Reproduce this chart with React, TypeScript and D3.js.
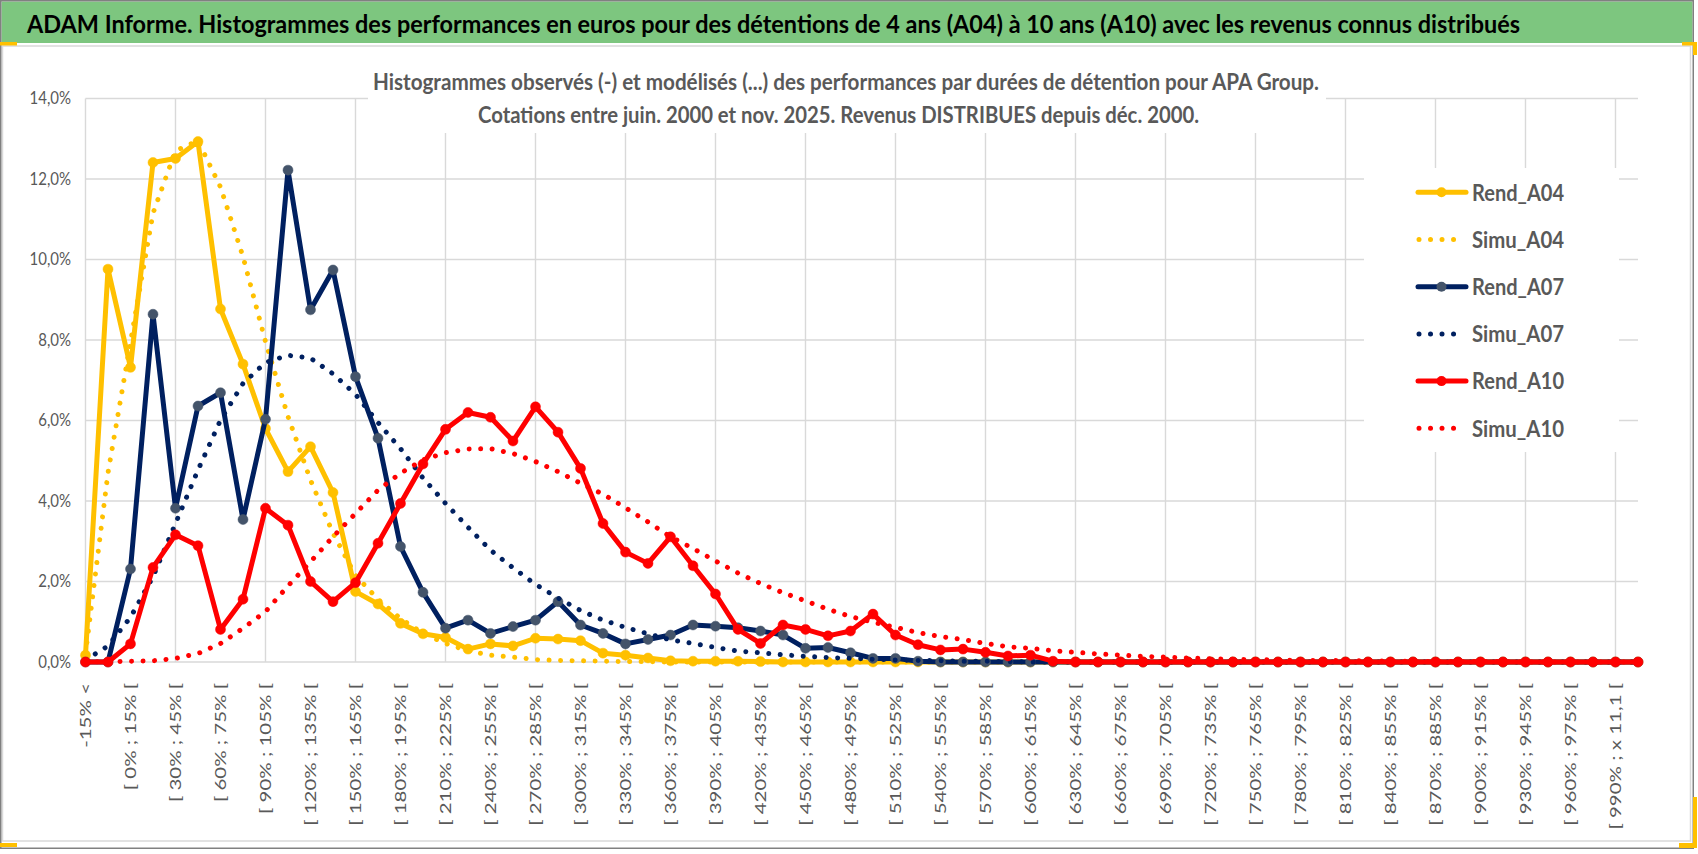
import React, { useEffect, useRef } from 'react';
import * as d3 from 'd3';

// Tick labels, one per category (only every second one is shown)
const categories = [
  '-15% <', '[ -15% ; 0% [', '[ 0% ; 15% [', '[ 15% ; 30% [', '[ 30% ; 45% [',
  '[ 45% ; 60% [', '[ 60% ; 75% [', '[ 75% ; 90% [', '[ 90% ; 105% [', '[ 105% ; 120% [',
  '[ 120% ; 135% [', '[ 135% ; 150% [', '[ 150% ; 165% [', '[ 165% ; 180% [', '[ 180% ; 195% [',
  '[ 195% ; 210% [', '[ 210% ; 225% [', '[ 225% ; 240% [', '[ 240% ; 255% [', '[ 255% ; 270% [',
  '[ 270% ; 285% [', '[ 285% ; 300% [', '[ 300% ; 315% [', '[ 315% ; 330% [', '[ 330% ; 345% [',
  '[ 345% ; 360% [', '[ 360% ; 375% [', '[ 375% ; 390% [', '[ 390% ; 405% [', '[ 405% ; 420% [',
  '[ 420% ; 435% [', '[ 435% ; 450% [', '[ 450% ; 465% [', '[ 465% ; 480% [', '[ 480% ; 495% [',
  '[ 495% ; 510% [', '[ 510% ; 525% [', '[ 525% ; 540% [', '[ 540% ; 555% [', '[ 555% ; 570% [',
  '[ 570% ; 585% [', '[ 585% ; 600% [', '[ 600% ; 615% [', '[ 615% ; 630% [', '[ 630% ; 645% [',
  '[ 645% ; 660% [', '[ 660% ; 675% [', '[ 675% ; 690% [', '[ 690% ; 705% [', '[ 705% ; 720% [',
  '[ 720% ; 735% [', '[ 735% ; 750% [', '[ 750% ; 765% [', '[ 765% ; 780% [', '[ 780% ; 795% [',
  '[ 795% ; 810% [', '[ 810% ; 825% [', '[ 825% ; 840% [', '[ 840% ; 855% [', '[ 855% ; 870% [',
  '[ 870% ; 885% [', '[ 885% ; 900% [', '[ 900% ; 915% [', '[ 915% ; 930% [', '[ 930% ; 945% [',
  '[ 945% ; 960% [', '[ 960% ; 975% [', '[ 975% ; 990% [', '[ 990% ; x 11,1 [', 'x 11,1 <',
];

// values in %
const rendA04 = [
  0.17, 9.76, 7.32, 12.41, 12.51, 12.93, 8.77, 7.40, 5.80, 4.73,
  5.35, 4.21, 1.75, 1.44, 0.96, 0.70, 0.61, 0.32, 0.45, 0.40,
  0.59, 0.57, 0.53, 0.22, 0.17, 0.10, 0.03, 0.02, 0.02, 0.02,
  0.01, 0, 0, 0, 0, 0, 0, 0, 0, 0,
  0, 0, 0, 0, 0, 0, 0, 0, 0, 0,
  0, 0, 0, 0, 0, 0, 0, 0, 0, 0,
  0, 0, 0, 0, 0, 0, 0, 0, 0, 0,
];
const simuA04 = [
  0.20, 4.70, 7.95, 11.15, 12.70, 12.95, 11.80, 10.07, 7.96, 6.10,
  4.52, 3.20, 2.15, 1.56, 1.08, 0.71, 0.46, 0.28, 0.17, 0.12,
  0.06, 0.04, 0.03, 0.02, 0.01, 0.01, 0, 0, 0, 0,
  0, 0, 0, 0, 0, 0, 0, 0, 0, 0,
  0, 0, 0, 0, 0, 0, 0, 0, 0, 0,
  0, 0, 0, 0, 0, 0, 0, 0, 0, 0,
  0, 0, 0, 0, 0, 0, 0, 0, 0, 0,
];
const rendA07 = [
  0, 0, 2.31, 8.64, 3.82, 6.36, 6.69, 3.54, 6.03, 12.22,
  8.75, 9.74, 7.09, 5.56, 2.87, 1.73, 0.84, 1.04, 0.71, 0.88,
  1.04, 1.50, 0.92, 0.71, 0.45, 0.56, 0.67, 0.92, 0.89, 0.85,
  0.77, 0.67, 0.34, 0.36, 0.23, 0.09, 0.09, 0.02, 0, 0,
  0, 0, 0, 0, 0, 0, 0, 0, 0, 0,
  0, 0, 0, 0, 0, 0, 0, 0, 0, 0,
  0, 0, 0, 0, 0, 0, 0, 0, 0, 0,
];
const simuA07 = [
  0.05, 0.40, 1.11, 2.12, 3.44, 4.77, 6.01, 6.92, 7.44, 7.62,
  7.55, 7.16, 6.65, 5.95, 5.30, 4.57, 3.94, 3.35, 2.78, 2.34,
  1.93, 1.59, 1.28, 1.04, 0.86, 0.70, 0.55, 0.46, 0.36, 0.27,
  0.23, 0.18, 0.14, 0.11, 0.09, 0.07, 0.05, 0.04, 0.03, 0.02,
  0.02, 0.01, 0, 0, 0, 0, 0, 0, 0, 0,
  0, 0, 0, 0, 0, 0, 0, 0, 0, 0,
  0, 0, 0, 0, 0, 0, 0, 0, 0, 0,
];
const rendA10 = [
  0, 0, 0.45, 2.35, 3.16, 2.89, 0.81, 1.56, 3.82, 3.40,
  2.00, 1.50, 1.97, 2.95, 3.94, 4.92, 5.78, 6.20, 6.08, 5.49,
  6.34, 5.71, 4.81, 3.44, 2.73, 2.45, 3.11, 2.39, 1.69, 0.81,
  0.46, 0.92, 0.81, 0.65, 0.77, 1.19, 0.67, 0.43, 0.30, 0.32,
  0.24, 0.15, 0.17, 0.02, 0, 0, 0, 0, 0, 0,
  0, 0, 0, 0, 0, 0, 0, 0, 0, 0,
  0, 0, 0, 0, 0, 0, 0, 0, 0, 0,
];
const simuA10 = [
  0, 0.01, 0.02, 0.03, 0.09, 0.21, 0.46, 0.84, 1.25, 1.89,
  2.49, 3.11, 3.69, 4.27, 4.69, 5.02, 5.20, 5.29, 5.30, 5.18,
  4.98, 4.73, 4.44, 4.17, 3.83, 3.48, 3.11, 2.82, 2.51, 2.21,
  1.95, 1.72, 1.52, 1.31, 1.13, 0.99, 0.86, 0.73, 0.63, 0.56,
  0.46, 0.38, 0.34, 0.28, 0.24, 0.20, 0.17, 0.14, 0.12, 0.10,
  0.08, 0.07, 0.06, 0.05, 0.04, 0.04, 0.03, 0.03, 0.02, 0.02,
  0.01, 0.01, 0.01, 0.01, 0, 0, 0, 0, 0, 0,
];

const yTicks = [0, 2, 4, 6, 8, 10, 12, 14];

const titleText = 'ADAM Informe. Histogrammes des performances en euros pour des détentions de 4 ans (A04) à 10 ans (A10) avec les revenus connus distribués';
const subtitle1 = 'Histogrammes observés (-) et modélisés (...) des performances par durées de détention pour APA Group.';
const subtitle2 = 'Cotations entre juin. 2000 et nov. 2025. Revenus DISTRIBUES depuis déc. 2000.';

const series = [
  { name: 'Rend_A04', values: rendA04, color: '#FFC000', marker: '#FFC000', dotted: false },
  { name: 'Simu_A04', values: simuA04, color: '#FFC000', marker: null, dotted: true },
  { name: 'Rend_A07', values: rendA07, color: '#002060', marker: '#44546A', dotted: false },
  { name: 'Simu_A07', values: simuA07, color: '#002060', marker: null, dotted: true },
  { name: 'Rend_A10', values: rendA10, color: '#FF0000', marker: '#FF0000', dotted: false },
  { name: 'Simu_A10', values: simuA10, color: '#FF0000', marker: null, dotted: true },
];

const W = 1698;
const H = 854;
const FONT = 'Lato, "Open Sans", sans-serif';
const GREY = '#595959';
const SY = 1.2; // text in the picture is drawn a bit tall

const App: React.FC = () => {
  const svgRef = useRef<SVGSVGElement>(null);

  useEffect(() => {
    if (!svgRef.current) return;
    const svg = d3.select(svgRef.current);
    svg.selectAll('*').remove();

    const plot = { left: 85.5, right: 1638, top: 98.5, bottom: 662 };

    const x = d3.scalePoint<string>()
      .domain(categories)
      .range([plot.left, plot.right])
      .padding(0);
    const y = d3.scaleLinear().domain([0, 14]).range([plot.bottom, plot.top]);
    const xi = (i: number) => x(categories[i]) as number;

    const text = (
      g: d3.Selection<any, unknown, null, undefined>,
      str: string, tx: number, ty: number,
      opts: { size: number; weight?: string; fill?: string; anchor?: string; len?: number; rotate?: boolean; sx?: number }
    ) => {
      const tr = opts.rotate
        ? `translate(${tx},${ty}) rotate(-90) scale(${opts.sx ?? SY},1)`
        : `translate(${tx},${ty}) scale(1,${SY})`;
      const t = g.append('text')
        .attr('transform', tr)
        .attr('font-family', FONT)
        .attr('font-size', opts.size)
        .attr('font-weight', opts.weight ?? 'normal')
        .attr('fill', opts.fill ?? GREY)
        .attr('text-anchor', opts.anchor ?? 'start')
        .text(str);
      if (opts.len) t.attr('textLength', opts.len).attr('lengthAdjust', 'spacingAndGlyphs');
      return t;
    };

    // background and frame
    svg.append('rect').attr('width', W).attr('height', H).attr('fill', '#fff');
    svg.append('rect').attr('x', 1.5).attr('y', 1.5).attr('width', 1691).attr('height', 41.5).attr('fill', '#7DC67F');
    svg.append('rect').attr('x', 2.5).attr('y', 46).attr('width', 1688).attr('height', 795)
      .attr('fill', 'none').attr('stroke', '#d9d9d9').attr('stroke-width', 1.5);
    svg.append('rect').attr('x', 0.75).attr('y', 0.75).attr('width', 1692.5).attr('height', 847.5)
      .attr('fill', 'none').attr('stroke', '#808080').attr('stroke-width', 1.5);

    // selection handles
    const handles = svg.append('g').attr('fill', '#FFC000');
    handles.append('rect').attr('x', 0).attr('y', 42).attr('width', 17).attr('height', 3.5);
    handles.append('rect').attr('x', 0).attr('y', 843).attr('width', 17).attr('height', 4);
    handles.append('rect').attr('x', 1682).attr('y', 42).attr('width', 15).attr('height', 3.5);
    handles.append('rect').attr('x', 1693).attr('y', 42).attr('width', 4).attr('height', 13);
    handles.append('rect').attr('x', 1679).attr('y', 843).attr('width', 18).attr('height', 5);
    handles.append('rect').attr('x', 1693).attr('y', 797).attr('width', 4).attr('height', 51);

    text(svg, titleText, 27, 33, { size: 21, weight: 'bold', fill: '#000', len: 1493 });

    // gridlines
    const grid = svg.append('g').attr('stroke', '#d9d9d9').attr('stroke-width', 1.4);
    yTicks.forEach(t => {
      grid.append('line').attr('x1', plot.left).attr('x2', plot.right).attr('y1', y(t)).attr('y2', y(t));
    });
    categories.forEach((c, i) => {
      if (i % 4 !== 0) return;
      grid.append('line').attr('x1', xi(i)).attr('x2', xi(i)).attr('y1', plot.top).attr('y2', plot.bottom);
    });

    // subtitle box
    svg.append('rect').attr('x', 368).attr('y', 56).attr('width', 958).attr('height', 77).attr('fill', '#fff');
    text(svg, subtitle1, 373, 90, { size: 18.5, weight: 'bold', len: 946 });
    text(svg, subtitle2, 478, 123, { size: 18.5, weight: 'bold', len: 721 });

    // y axis labels
    const fmt = (v: number) => v.toFixed(1).replace('.', ',') + '%';
    yTicks.forEach(t => {
      text(svg, fmt(t), 71, y(t) + 5.5, { size: 15, anchor: 'end' });
    });

    // x axis labels
    categories.forEach((c, i) => {
      if (i % 2 !== 0) return;
      text(svg, c, xi(i) + 5.5, 683, { size: 16, anchor: 'end', rotate: true, sx: 1.28 });
    });

    // legend box
    const legend = svg.append('g');
    legend.append('rect').attr('x', 1364).attr('y', 168).attr('width', 255).attr('height', 284).attr('fill', '#fff');

    // series
    const line = d3.line<number>().x((_, i) => xi(i)).y(d => y(d));
    const gSeries = svg.append('g');
    series.forEach(s => {
      const g = gSeries.append('g');
      g.append('path')
        .attr('d', line(s.values) as string)
        .attr('fill', 'none')
        .attr('stroke', s.color)
        .attr('stroke-width', s.dotted ? 5 : 5)
        .attr('stroke-linejoin', 'round')
        .attr('stroke-linecap', 'round')
        .attr('stroke-dasharray', s.dotted ? '0.01 11.5' : null);
      if (s.marker) {
        g.selectAll('circle')
          .data(s.values)
          .enter().append('circle')
          .attr('cx', (_, i) => xi(i))
          .attr('cy', d => y(d))
          .attr('r', 5)
          .attr('fill', s.marker)
          .attr('stroke', s.marker)
          .attr('stroke-width', 0.5);
      }
    });

    // legend entries
    series.forEach((s, k) => {
      const ly = 192.3 + k * 47.2;
      if (s.dotted) {
        legend.append('line').attr('x1', 1419).attr('x2', 1462).attr('y1', ly).attr('y2', ly)
          .attr('stroke', s.color).attr('stroke-width', 5)
          .attr('stroke-linecap', 'round').attr('stroke-dasharray', '0.01 11.5');
      } else {
        legend.append('line').attr('x1', 1418).attr('x2', 1466).attr('y1', ly).attr('y2', ly)
          .attr('stroke', s.color).attr('stroke-width', 5).attr('stroke-linecap', 'round');
        legend.append('circle').attr('cx', 1441.5).attr('cy', ly).attr('r', 5).attr('fill', s.marker as string);
      }
      text(legend, s.name, 1472, ly + 8.3, { size: 19.5, weight: 'bold', len: 92 });
    });
  }, []);

  return (
    <div style={{ position: 'fixed', left: 0, top: 0, width: W, height: H }}>
      <svg ref={svgRef} width={W} height={H} style={{ display: 'block' }} />
    </div>
  );
};

export default App;
